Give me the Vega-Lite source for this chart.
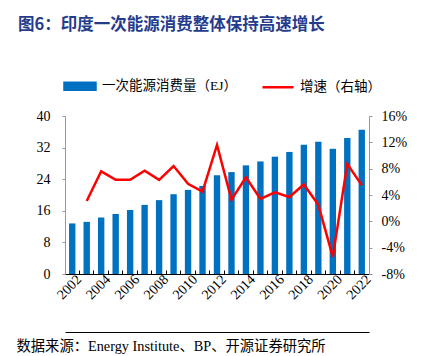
{
  "$schema": "https://vega.github.io/schema/vega-lite/v6.json",
  "autosize": {"type": "none"},
  "width": 304,
  "height": 158,
  "padding": {"left": 65, "top": 116, "right": 57, "bottom": 82},
  "background": "white",
  "config": {"view": {"stroke": null}},
  "title": {
    "text": "图6：印度一次能源消费整体保持高速增长",
    "anchor": "start",
    "frame": "group",
    "font": "Noto Sans CJK SC",
    "fontSize": 16.5,
    "fontWeight": "bold",
    "color": "#253b8c",
    "dx": -47,
    "dy": -32
  },
  "data": {"values": [
    {"year": "2002", "consumption": 12.8, "growth": null},
    {"year": "2003", "consumption": 13.2, "growth": 3.1},
    {"year": "2004", "consumption": 14.3, "growth": 7.6},
    {"year": "2005", "consumption": 15.2, "growth": 6.3},
    {"year": "2006", "consumption": 16.2, "growth": 6.3},
    {"year": "2007", "consumption": 17.5, "growth": 7.7},
    {"year": "2008", "consumption": 18.7, "growth": 6.3},
    {"year": "2009", "consumption": 20.2, "growth": 8.4},
    {"year": "2010", "consumption": 21.3, "growth": 5.7},
    {"year": "2011", "consumption": 22.3, "growth": 4.5},
    {"year": "2012", "consumption": 25.0, "growth": 11.6},
    {"year": "2013", "consumption": 25.8, "growth": 3.3},
    {"year": "2014", "consumption": 27.5, "growth": 6.7},
    {"year": "2015", "consumption": 28.5, "growth": 3.4},
    {"year": "2016", "consumption": 29.7, "growth": 4.4},
    {"year": "2017", "consumption": 30.9, "growth": 3.7},
    {"year": "2018", "consumption": 32.7, "growth": 5.6},
    {"year": "2019", "consumption": 33.5, "growth": 2.5},
    {"year": "2020", "consumption": 31.7, "growth": -5.4},
    {"year": "2021", "consumption": 34.4, "growth": 8.7},
    {"year": "2022", "consumption": 36.5, "growth": 5.5}
  ]},
  "layer": [
    {
      "mark": {"type": "bar", "width": {"band": 0.44}},
      "encoding": {
        "x": {
          "field": "year", "type": "ordinal",
          "scale": {"paddingInner": 0, "paddingOuter": 0},
          "axis": {
            "title": null,
            "orient": "bottom",
            "bandPosition": 0,
            "labelOffset": 7.2,
            "labelAngle": -45,
            "labelAlign": "right",
            "labelBaseline": "middle",
            "labelPadding": 7,
            "labelOverlap": false,
            "labelExpr": "toNumber(datum.value) % 2 == 0 ? datum.value : ''",
            "labelFont": "Liberation Serif",
            "labelFontSize": 14,
            "labelColor": "#000",
            "domainColor": "#000",
            "tickColor": "#000",
            "tickSize": -4
          }
        },
        "y": {
          "field": "consumption", "type": "quantitative",
          "scale": {"domain": [0, 40]},
          "axis": {
            "title": null,
            "values": [0, 8, 16, 24, 32, 40],
            "grid": false,
            "labelFont": "Liberation Serif",
            "labelFontSize": 14,
            "labelColor": "#000",
            "labelPadding": 12,
            "domainColor": "#999",
            "tickColor": "#999",
            "tickSize": 3
          }
        },
        "color": {
          "datum": "一次能源消费量（EJ）",
          "scale": {"domain": ["一次能源消费量（EJ）", "增速（右轴）"], "range": ["#0070C0", "#FF0000"]},
          "legend": {
            "title": null,
            "orient": "none",
            "direction": "horizontal",
            "legendX": -2,
            "legendY": -47,
            "labelFont": "Liberation Serif, Noto Sans CJK SC",
            "labelFontSize": 13.5,
            "labelColor": "#000",
            "labelOffset": 5,
            "columnPadding": 20,
            "symbolSize": 961,
            "encode": {
              "symbols": {"update": {
                "shape": {"signal": "datum.value === '增速（右轴）' ? 'stroke' : 'M-1,-0.23H1V0.23H-1Z'"},
                "fill": {"signal": "datum.value === '增速（右轴）' ? 'transparent' : '#0070C0'"},
                "stroke": {"signal": "datum.value === '增速（右轴）' ? '#FF0000' : 'transparent'"},
                "strokeWidth": {"value": 2.5},
                "opacity": {"value": 1}
              }}
            }
          }
        }
      }
    },
    {
      "mark": {"type": "line", "strokeWidth": 2.5},
      "encoding": {
        "x": {
          "field": "year", "type": "ordinal",
          "axis": {
            "orient": "bottom",
            "title": "数据来源：Energy Institute、BP、开源证券研究所",
            "titleFont": "Liberation Serif, Noto Sans CJK SC",
            "titleFontSize": 14.3,
            "titleFontWeight": "normal",
            "titleColor": "#000",
            "titleAnchor": "start",
            "titleAlign": "left",
            "titleBaseline": "middle",
            "titleX": -49,
            "titleY": 14,
            "offset": 58,
            "labels": false,
            "ticks": false,
            "domain": true,
            "domainOpacity": 1,
            "domainColor": "#000",
            "domainWidth": 1
          }
        },
        "y": {
          "field": "growth", "type": "quantitative",
          "scale": {"domain": [-8, 16]},
          "axis": {
            "title": null,
            "orient": "right",
            "values": [-8, -4, 0, 4, 8, 12, 16],
            "labelExpr": "datum.value + '%'",
            "grid": false,
            "labelFont": "Liberation Serif",
            "labelFontSize": 14,
            "labelColor": "#000",
            "labelPadding": 9,
            "domainColor": "#999",
            "tickColor": "#999",
            "tickSize": 3
          }
        },
        "color": {"datum": "增速（右轴）"}
      }
    }
  ],
  "resolve": {"scale": {"y": "independent"}, "axis": {"x": "independent"}}
}
